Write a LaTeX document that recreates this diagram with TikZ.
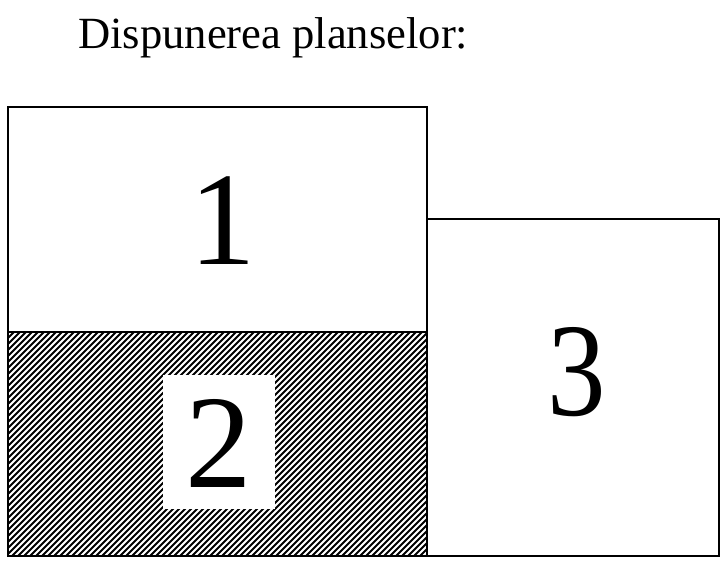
\documentclass[tikz,border=0pt]{standalone}
\usepackage{fontspec}
\setmainfont{Liberation Serif}
\tikzset{
  box/.style={draw=black,line width=2pt,fill=white},
  hatchline/.style={draw=black,line width=2.1pt},
  numlabel/.style={font=\fontsize{133}{133}\selectfont,inner sep=0pt,text=black},
}
\begin{document}
\begin{tikzpicture}[x=1pt,y=-1pt]
\useasboundingbox (0,0) rectangle (722,561);
\fill[white] (0,0) rectangle (722,561);
\node[anchor=base west,inner sep=0pt,font=\fontsize{44.6}{44.6}\selectfont] (title) at (78,49) {Dispunerea planselor:};
\draw[box] (8,107) rectangle (427,332);
\begin{scope}
\clip (8,332) rectangle (427,556);
\foreach \k in {0,...,110}{
  \draw[hatchline] ({8+6*\k-224},556) -- ++(224,-224);
}
\end{scope}
\draw[draw=black,line width=2pt] (8,332) rectangle (427,556);
\draw[box] (427,219) rectangle (719,556);
\fill[white] (163,375) rectangle (275,509);
\node[numlabel,anchor=base] (one) at (223,265) {1};
\node[numlabel,anchor=base] (two) at (218.5,487) {2};
\node[numlabel,anchor=base,xscale=0.88] (three) at (577,415) {3};
\end{tikzpicture}
\end{document}
